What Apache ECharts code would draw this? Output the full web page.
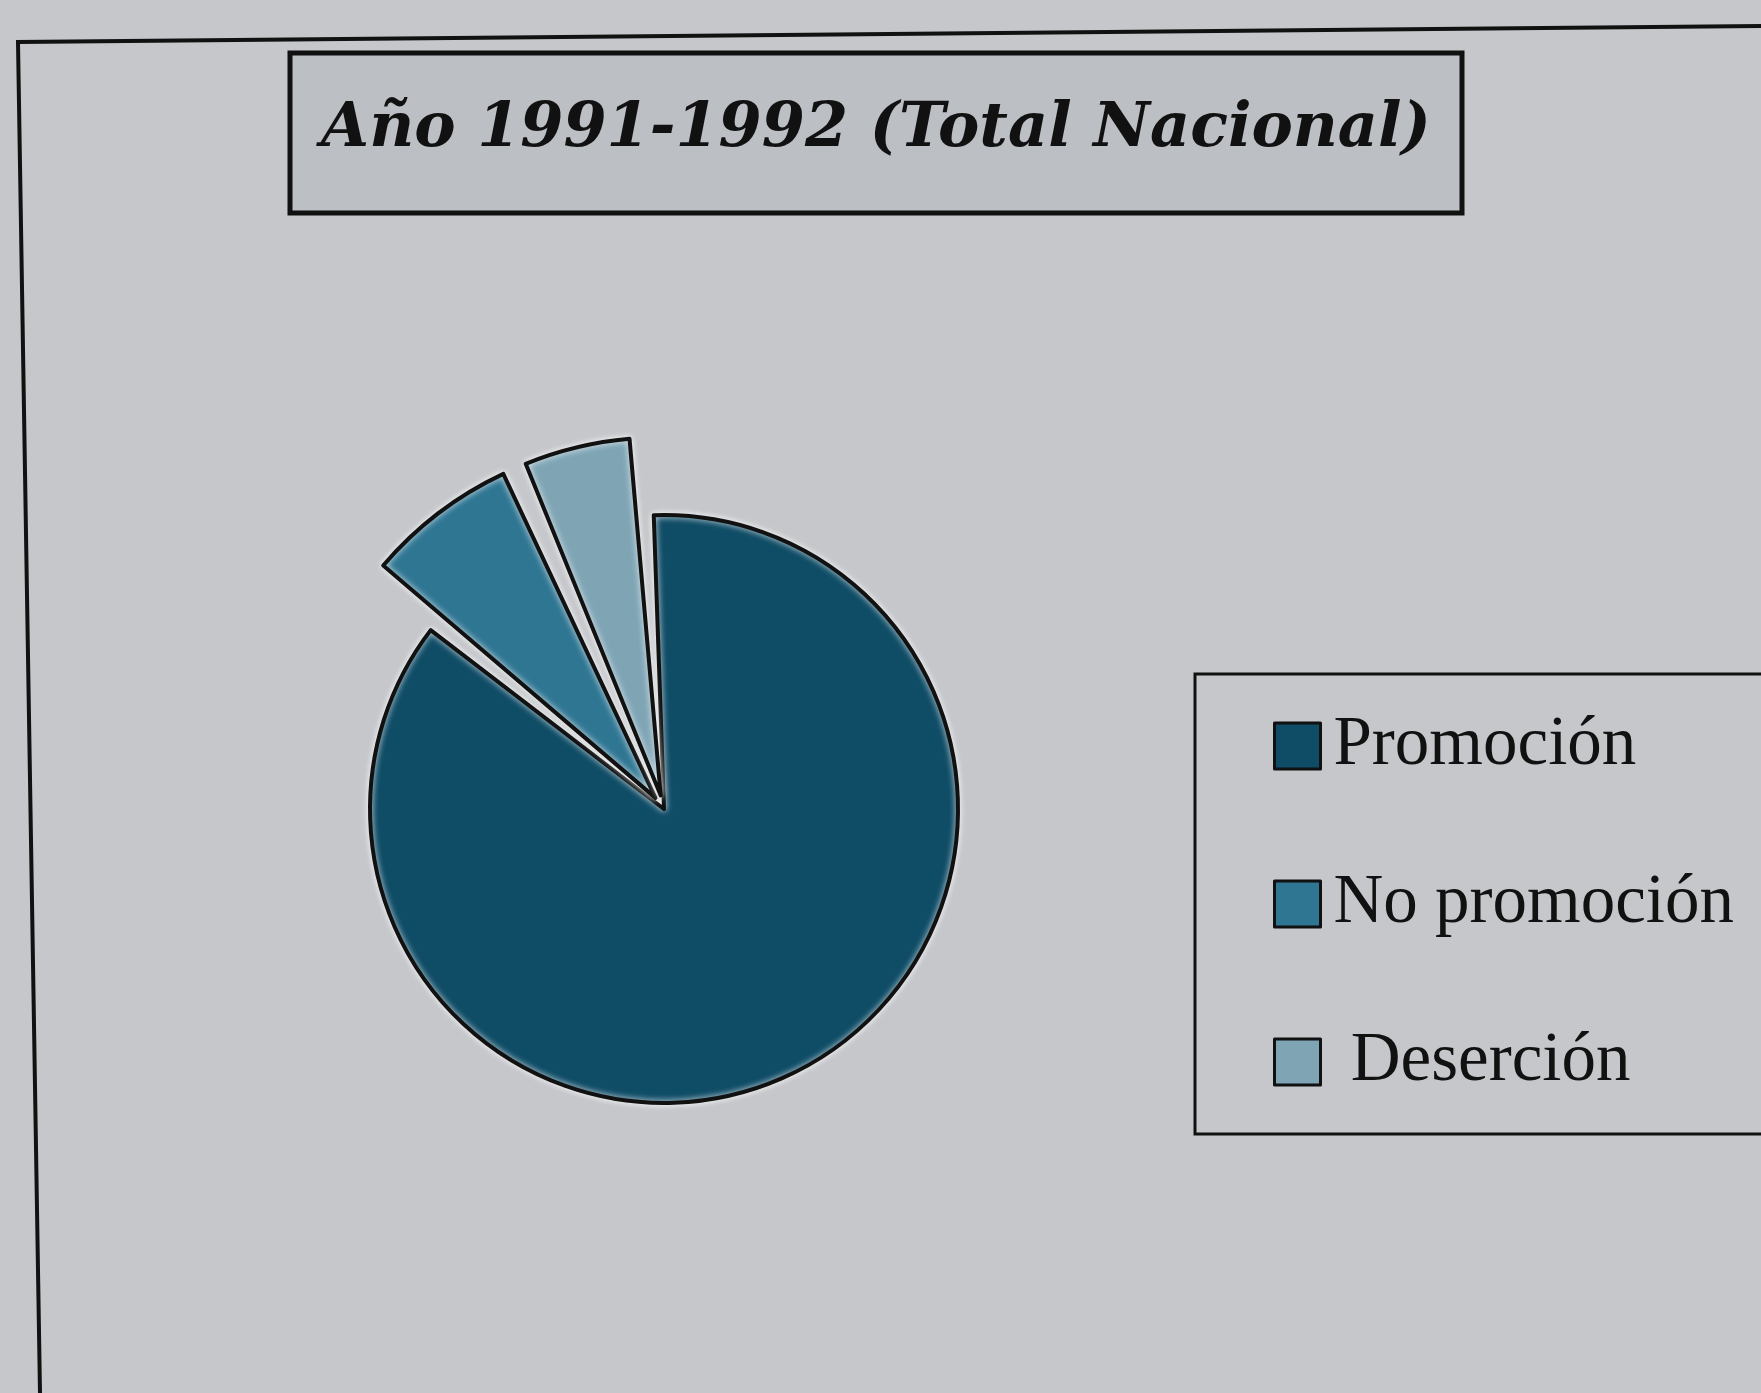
<!DOCTYPE html>
<html>
<head>
<meta charset="utf-8">
<script src="https://cdn.jsdelivr.net/npm/echarts@6/dist/echarts.min.js"></script>
<style>
  html, body { margin: 0; padding: 0; background: #c5c7cb; }
  #main { width: 1761px; height: 1393px; }
</style>
</head>
<body>
<div id="main"></div>
<script>
// datos del gráfico
var titulo = 'Año 1991-1992 (Total Nacional)';
var categorias = ['Promoción', 'No promoción', 'Deserción'];
var valores = [86.8, 7.6, 5.6];
var colores = ['#0f4c66', '#2f7693', '#7fa5b5'];

var myChart = echarts.init(document.getElementById('main'));

var borde = { borderColor: '#111', borderWidth: 4, shadowColor: 'rgba(250,250,250,0.95)', shadowBlur: 6 };
var oculto = { color: 'rgba(0,0,0,0)', borderWidth: 0, shadowBlur: 0 };

// sector grande (Promoción)
var datosBase = categorias.map(function (n, i) {
    return {
        name: n,
        value: valores[i],
        itemStyle: i === 0 ? Object.assign({ color: colores[i] }, borde) : oculto
    };
});
// sectores separados (No promoción, Deserción)
var datosSep = categorias.map(function (n, i) {
    return {
        name: n,
        value: valores[i],
        selected: i !== 0,
        itemStyle: i !== 0 ? Object.assign({ color: colores[i] }, borde) : oculto
    };
});

var option = {
    backgroundColor: '#c5c7cb',
    animation: false,
    legend: {
        orient: 'vertical',
        left: 1268,
        top: 706,
        itemWidth: 46,
        itemHeight: 46,
        itemGap: 88,
        icon: 'rect',
        selectedMode: false,
        formatter: function (name) {
            return name === 'Deserción' ? ' ' + name : name;
        },
        textStyle: {
            fontFamily: 'Liberation Serif',
            fontSize: 69,
            lineHeight: 70,
            color: '#111',
            padding: [0, 0, 0, 8]
        },
        data: categorias.map(function (n, i) {
            return { name: n, itemStyle: { color: colores[i], borderColor: '#111', borderWidth: 3 } };
        })
    },
    graphic: [
        {
            type: 'polyline',
            shape: { points: [[1761, 26], [18, 42], [40, 1393]] },
            style: { stroke: '#111', lineWidth: 4, fill: null },
            silent: true
        },
        {
            type: 'rect',
            shape: { x: 290, y: 53, width: 1172, height: 160 },
            style: { fill: '#bcbfc4', stroke: '#111', lineWidth: 5 },
            silent: true
        },
        {
            type: 'text',
            x: 876,
            y: 130,
            style: {
                text: titulo,
                font: 'italic bold 62px "DejaVu Serif"',
                fill: '#111',
                align: 'center',
                verticalAlign: 'middle'
            },
            silent: true
        },
        {
            type: 'rect',
            shape: { x: 1195, y: 674, width: 620, height: 460 },
            style: { fill: null, stroke: '#111', lineWidth: 3 },
            silent: true
        }
    ],
    series: [
        {
            type: 'pie',
            center: [664, 809],
            radius: [0, 294],
            startAngle: 93.5,
            padAngle: 3,
            silent: true,
            label: { show: false },
            labelLine: { show: false },
            emphasis: { disabled: true },
            data: datosBase
        },
        {
            type: 'pie',
            center: [664, 809],
            radius: [0, 358],
            startAngle: 93.5,
            padAngle: 3,
            selectedMode: 'multiple',
            selectedOffset: 14,
            silent: true,
            label: { show: false },
            labelLine: { show: false },
            emphasis: { disabled: true },
            data: datosSep
        }
    ]
};
myChart.setOption(option);
</script>
</body>
</html>
